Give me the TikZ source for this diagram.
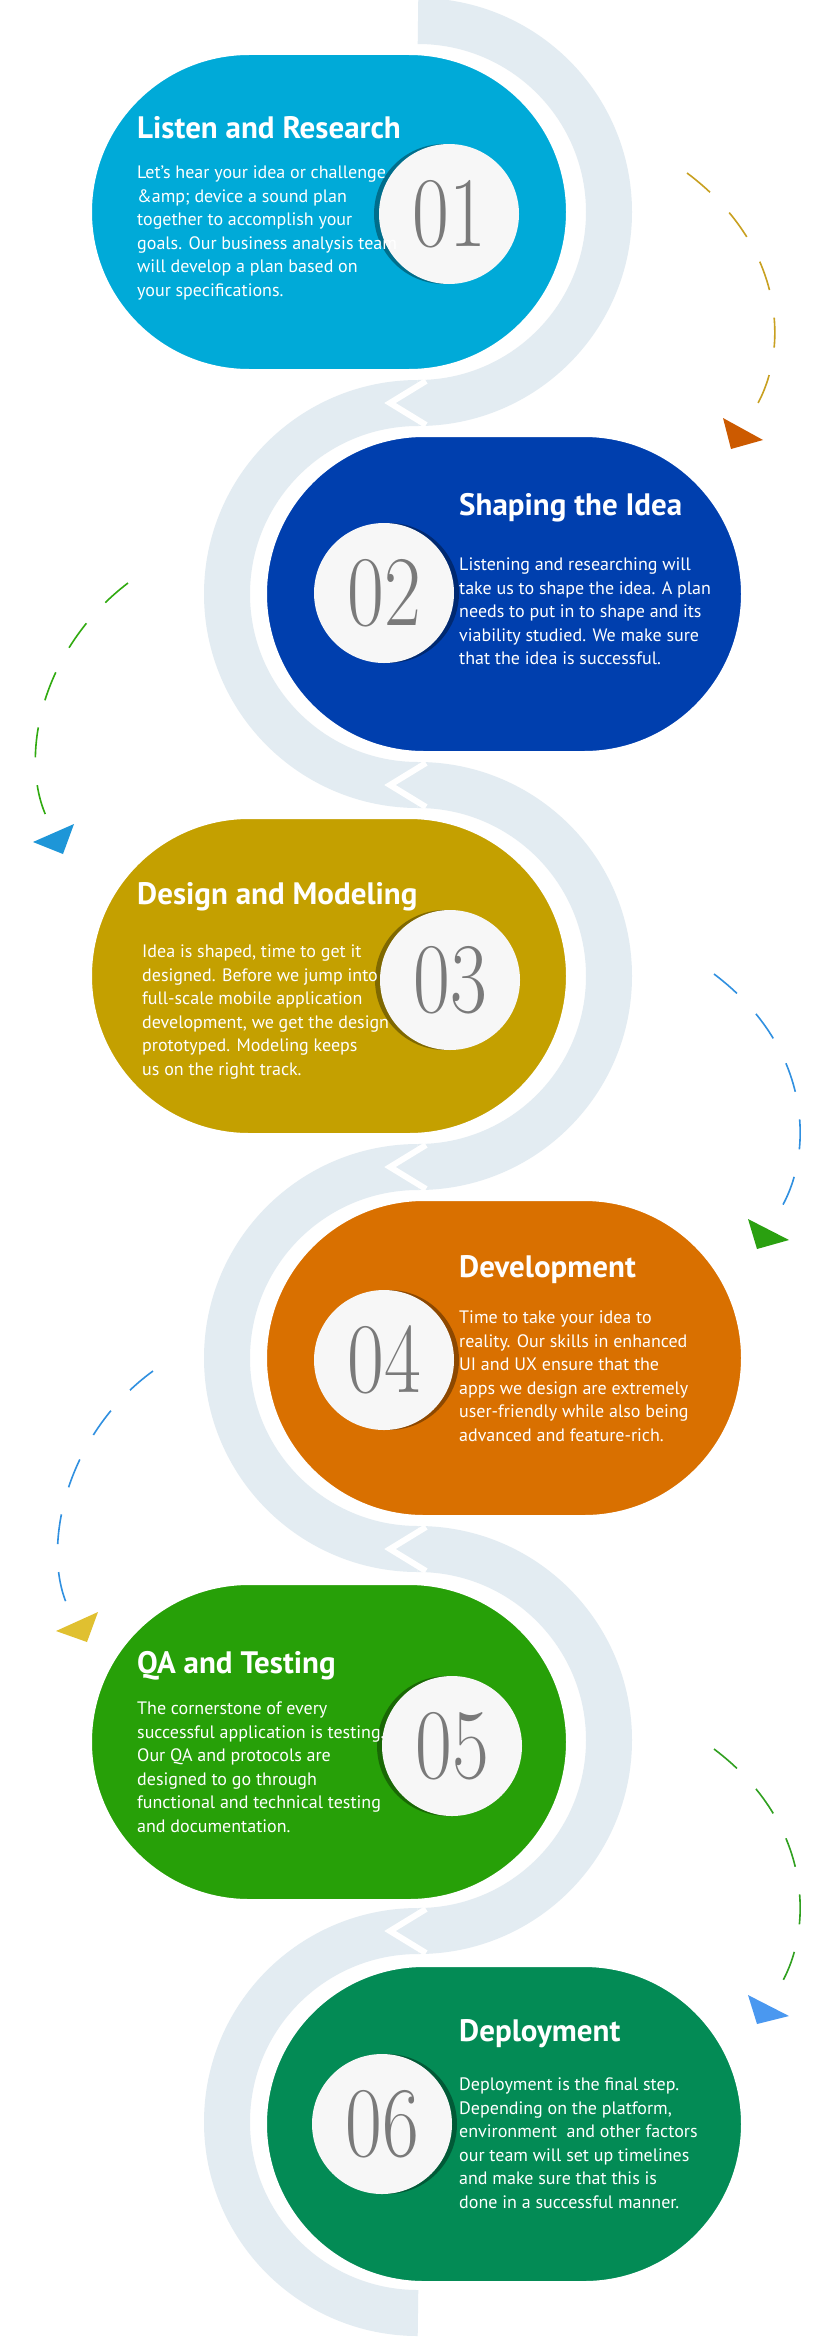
\documentclass[tikz,border=0pt]{standalone}
\usepackage{fontspec}
\setmainfont{PT Sans}
\usetikzlibrary{positioning}

\definecolor{track}{HTML}{E3ECF2}
\definecolor{cone}{HTML}{00AAD8}
\definecolor{ctwo}{HTML}{003FAE}
\definecolor{cthree}{HTML}{C4A000}
\definecolor{cfour}{HTML}{D97000}
\definecolor{cfive}{HTML}{27A008}
\definecolor{csix}{HTML}{038B55}
\definecolor{numgray}{HTML}{7A7A7A}

\tikzset{
  pill/.style={draw=white, line width=8pt, rounded corners=161pt,
    minimum width=482pt, minimum height=322pt, inner sep=0pt},
  badge/.style={circle, fill=white!97!black, minimum size=140pt, inner sep=0pt},
  badgeshadow/.style={circle, fill=black, opacity=0.35, minimum size=140pt, inner sep=0pt},
  num/.style={font=\fontspec{Latin Modern Roman}\fontsize{100}{100}\selectfont,
    text=numgray, xscale=0.8, inner sep=0pt},
  title/.style={anchor=base west, inner sep=0pt, text=white,
    font=\bfseries\fontsize{31}{36}\selectfont},
  body/.style={anchor=north west, inner sep=0pt, align=left, text=white,
    font=\fontsize{18}{23.5}\selectfont},
  dashline/.style={line width=1.6pt, dash pattern=on 30pt off 28pt}
}

\begin{document}
\begin{tikzpicture}[x=1pt,y=-1pt]
  \useasboundingbox (0,0) rectangle (831,2339);
  \fill[white] (0,0) rectangle (831,2339);

  % track behind the pills
  \foreach \k in {0,2,4}
    \draw[track, line width=46pt] (418,{212+382*\k-191}) arc[start angle=-90, end angle=90, radius=191];
  \foreach \k in {1,3,5}
    \draw[track, line width=46pt] (418,{212+382*\k-191}) arc[start angle=270, end angle=90, radius=191];
  \foreach \j in {403,785,1167,1549,1931}
    \draw[white, line width=6pt] (426,\j-22) -- (390,\j) -- (426,\j+22);

  % pills
  \node[pill, fill=cone] (p1) at (329,212) {};
  \node[pill, fill=ctwo] (p2) at (504,594) {};
  \node[pill, fill=cthree] (p3) at (329,976) {};
  \node[pill, fill=cfour] (p4) at (504,1358) {};
  \node[pill, fill=cfive] (p5) at (329,1742) {};
  \node[pill, fill=csix] (p6) at (504,2124) {};

  % badges
  \node[badgeshadow] at (444,214) {};
  \node[badge] (b1) at (449,214) {}; \node[num] at (b1) {01};
  \node[badgeshadow] at (389,593) {};
  \node[badge] (b2) at (384,593) {}; \node[num] at (b2) {02};
  \node[badgeshadow] at (445,980) {};
  \node[badge] (b3) at (450,980) {}; \node[num] at (b3) {03};
  \node[badgeshadow] at (389,1360) {};
  \node[badge] (b4) at (384,1360) {}; \node[num] at (b4) {04};
  \node[badgeshadow] at (447,1746) {};
  \node[badge] (b5) at (452,1746) {}; \node[num] at (b5) {05};
  \node[badgeshadow] at (387,2124) {};
  \node[badge] (b6) at (382,2124) {}; \node[num] at (b6) {06};

  % texts
  \node[title] (t1) at (137,139) {Listen and Research};
  \node[body] (d1) at (137,166) {Let’s hear your idea or challenge\\ \&amp; device a sound plan\\ together to accomplish your\\ goals. Our business analysis team\\ will develop a plan based on\\ your specifications.};
  \node[title] (t2) at (459,515) {Shaping the Idea};
  \node[body] (d2) at (459,558) {Listening and researching will\\ take us to shape the idea. A plan\\ needs to put in to shape and its\\ viability studied. We make sure\\ that the idea is successful.};
  \node[title] (t3) at (137,904) {Design and Modeling};
  \node[body] (d3) at (142,945) {Idea is shaped, time to get it\\ designed. Before we jump into\\ full-scale mobile application\\ development, we get the design\\ prototyped. Modeling keeps\\ us on the right track.};
  \node[title] (t4) at (459,1277) {Development};
  \node[body] (d4) at (459,1311) {Time to take your idea to\\ reality. Our skills in enhanced\\ UI and UX ensure that the\\ apps we design are extremely\\ user-friendly while also being\\ advanced and feature-rich.};
  \node[title] (t5) at (137,1673) {QA and Testing};
  \node[body] (d5) at (137,1702) {The cornerstone of every\\ successful application is testing.\\ Our QA and protocols are\\ designed to go through\\ functional and technical testing\\ and documentation.};
  \node[title] (t6) at (459,2041) {Deployment};
  \node[body] (d6) at (459,2078) {Deployment is the final step.\\ Depending on the platform,\\ environment\ \ and other factors\\ our team will set up timelines\\ and make sure that this is\\ done in a successful manner.};

  % dashed guides with tips
  \coordinate (g1a) at (687,173); \coordinate (g1b) at (750,416);
  \draw[dashline, color={rgb,255:red,200;green,160;blue,32}] (g1a) .. controls (790,250) and (790,360) .. (g1b);
  \fill[color={rgb,255:red,204;green,90;blue,0}] (723,418) -- (763,440) -- (731,449) -- cycle;

  \coordinate (g2a) at (128,583); \coordinate (g2b) at (48,820);
  \draw[dashline, color={rgb,255:red,48;green,170;blue,16}] (g2a) .. controls (40,650) and (18,760) .. (g2b);
  \fill[color={rgb,255:red,30;green,150;blue,216}] (33,842) -- (74,824) -- (63,854) -- cycle;

  \coordinate (g3a) at (714,974); \coordinate (g3b) at (776,1216);
  \draw[dashline, color={rgb,255:red,48;green,144;blue,224}] (g3a) .. controls (815,1050) and (815,1160) .. (g3b);
  \fill[color={rgb,255:red,42;green,160;blue,16}] (748,1219) -- (789,1240) -- (757,1249) -- cycle;

  \coordinate (g4a) at (153,1371); \coordinate (g4b) at (69,1609);
  \draw[dashline, color={rgb,255:red,48;green,144;blue,224}] (g4a) .. controls (65,1435) and (40,1550) .. (g4b);
  \fill[color={rgb,255:red,224;green,192;blue,48}] (56,1631) -- (98,1612) -- (87,1642) -- cycle;

  \coordinate (g5a) at (714,1749); \coordinate (g5b) at (776,1992);
  \draw[dashline, color={rgb,255:red,48;green,160;blue,32}] (g5a) .. controls (815,1825) and (815,1935) .. (g5b);
  \fill[color={rgb,255:red,74;green,152;blue,240}] (748,1995) -- (789,2016) -- (757,2024) -- cycle;
\end{tikzpicture}
\end{document}
